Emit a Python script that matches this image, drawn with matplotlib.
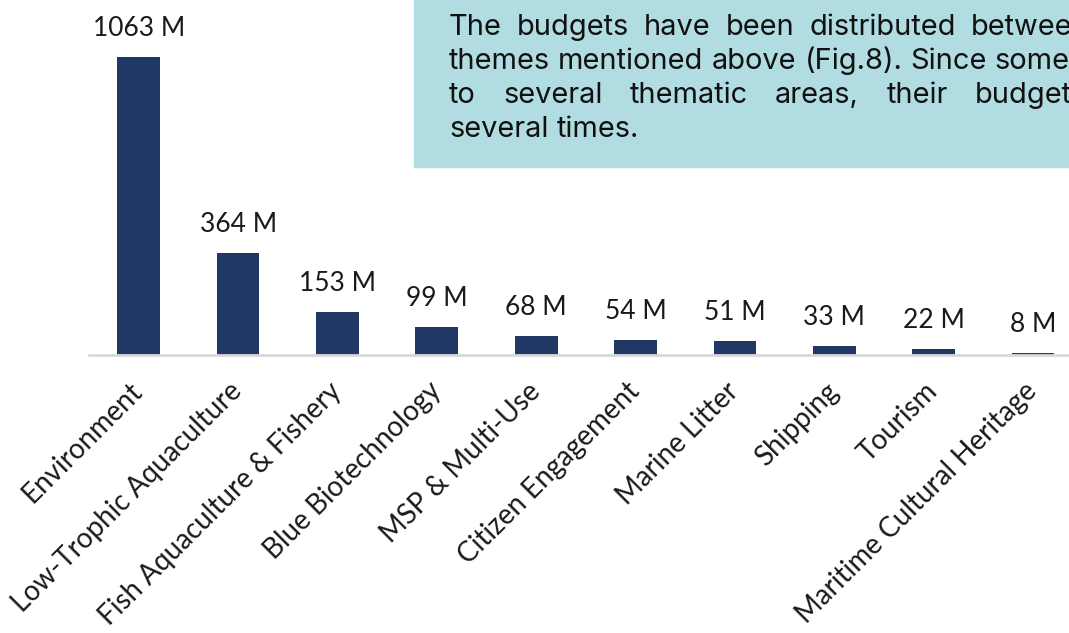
import matplotlib
matplotlib.use("Agg")
import matplotlib.pyplot as plt
from matplotlib.patches import Rectangle

# data
themes = ["Environment", "Low-Trophic Aquaculture", "Fish Aquaculture & Fishery",
          "Blue Biotechnology", "MSP & Multi-Use", "Citizen Engagement",
          "Marine Litter", "Shipping", "Tourism", "Maritime Cultural Heritage"]
budgets = [1063, 364, 153, 99, 68, 54, 51, 33, 22, 8]

# the note runs off the right edge of the picture in the reference
note_lines = [
    "The budgets have been distributed between",
    "themes mentioned above (Fig.8). Since some",
    "to several thematic areas, their budgets",
    "several times.",
]
# justified lines: x (px) where the last word starts; None = natural spacing
note_last_word_x = [971, None, 975, None]

W, H = 1069, 633
bar_color = "#213864"
box_color = "#b0dce2"
note_font = "Inter"

fig = plt.figure(figsize=(W / 100, H / 100), dpi=100)
fig.patch.set_facecolor("white")

ax = fig.add_axes([89 / W, 1 - 355 / H, (W - 89) / W, 355 / H])
ax.set_facecolor("none")
x = list(range(len(themes)))
ax.bar(x, budgets, width=0.43, color=bar_color, zorder=2)
ax.set_xlim(-0.5, (W - 138.5) / 99.4)
ax.set_ylim(0, 1266)

for xi, v in zip(x, budgets):
    ax.annotate(f"{v} M", (xi, v), xytext=(0, 15), textcoords="offset points",
                ha="center", va="baseline", fontsize=19, family="Lato",
                color="#1a1a1a")

for s in ["top", "right", "left"]:
    ax.spines[s].set_visible(False)
ax.spines["bottom"].set_color("#d9d9d9")
ax.spines["bottom"].set_linewidth(2)
ax.set_yticks([])
ax.set_xticks(x)
ax.set_xticklabels(themes, rotation=45, ha="right", va="center",
                   rotation_mode="anchor", fontsize=20, family="Lato",
                   color="#1a1a1a")
ax.tick_params(axis="x", length=0, pad=23)

# note box in the top right
fig.patches.append(Rectangle((414 / W, 1 - 167 / H), 1, 167 / H,
                             transform=fig.transFigure, color=box_color,
                             zorder=0))

renderer = fig.canvas.get_renderer()


def text_width(s, size):
    t = fig.text(0, 0, s, fontsize=size, family=note_font)
    w = t.get_window_extent(renderer).width
    t.remove()
    return w


x0 = 449
# size the note so the unjustified 2nd line reaches the right edge, as in the reference
note_size = 20 * (W - x0) / text_width(note_lines[1], 20)
baselines = [35, 69, 103, 137]
space = text_width("a a", note_size) - text_width("aa", note_size)
for line, last_x, base in zip(note_lines, note_last_word_x, baselines):
    words = line.split(" ")
    widths = [text_width(w, note_size) for w in words]
    if last_x is None:
        gap = space
    else:
        gap = (last_x - x0 - sum(widths[:-1])) / (len(words) - 1)
    cur = x0
    for w, wd in zip(words, widths):
        fig.text(cur / W, 1 - base / H, w, fontsize=note_size, family=note_font,
                 va="baseline", ha="left", color="#111111")
        cur += wd + gap

fig.savefig("out.png", dpi=100)
